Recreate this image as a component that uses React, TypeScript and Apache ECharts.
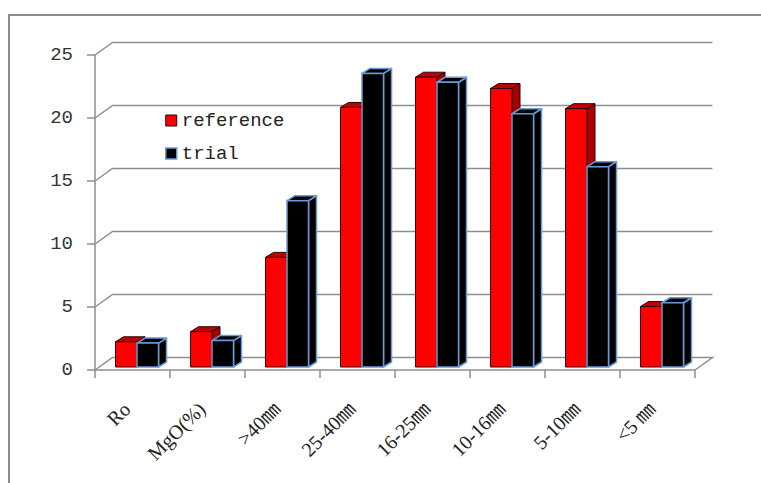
import React, { useEffect, useRef } from 'react';
import * as echarts from 'echarts';

const categories = ['Ro', 'MgO(%)', '>40㎜', '25-40㎜', '16-25㎜', '10-16㎜', '5-10㎜', '<5 ㎜'];
const referenceValues = [2.0, 2.8, 8.7, 20.6, 23.0, 22.1, 20.5, 4.8];
const trialValues = [1.9, 2.1, 13.2, 23.3, 22.6, 20.1, 15.9, 5.1];
const gridValues = [0, 5, 10, 15, 20, 25];

const WALL_DX = 17.5;
const WALL_DY = 12.5;
const BAR_DX = 8;
const BAR_DY = 5;
const BAR_FRAC = 0.287;
const BAR_SHIFT_X = 4.5;
const BAR_SHIFT_Y = 3;
const LINE_GRAY = '#8e8e8e';

function barSeries(name: string, values: number[], slot: number, st: any) {
  return {
    type: 'custom',
    name,
    z: 3,
    clip: false,
    encode: { x: 0, y: 1 },
    data: values.map((v, i) => [i, v]),
    itemStyle: { color: st.front, borderColor: st.stroke, borderWidth: st.lw },
    renderItem: (params: any, api: any) => {
      const idx = api.value(0);
      const val = api.value(1);
      const top = api.coord([idx, val]);
      const base = api.coord([idx, 0]);
      const bw = api.size([1, 0])[0];
      const w = bw * BAR_FRAC;
      const x0 = top[0] - w + BAR_SHIFT_X + slot * w;
      const yt = top[1] - BAR_SHIFT_Y;
      const yb = base[1] - BAR_SHIFT_Y;
      const stroke = { stroke: st.stroke, lineWidth: st.lw, lineJoin: 'round' };
      return {
        type: 'group',
        children: [
          {
            type: 'polygon',
            shape: { points: [[x0 + w, yt], [x0 + w + BAR_DX, yt - BAR_DY], [x0 + w + BAR_DX, yb - BAR_DY], [x0 + w, yb]] },
            style: { fill: st.side, ...stroke },
          },
          {
            type: 'polygon',
            shape: { points: [[x0, yt], [x0 + w, yt], [x0 + w + BAR_DX, yt - BAR_DY], [x0 + BAR_DX, yt - BAR_DY]] },
            style: { fill: st.top, ...stroke },
          },
          {
            type: 'rect',
            shape: { x: x0, y: yt, width: w, height: yb - yt },
            style: { fill: st.front, ...stroke },
          },
        ],
      };
    },
  };
}

export default function App() {
  const ref = useRef<HTMLDivElement>(null);
  useEffect(() => {
    const chart = echarts.init(ref.current!, null, { renderer: 'svg' });
    const refStyle = { front: '#ff0000', top: '#c00000', side: '#a80000', stroke: '#2a0505', lw: 1 };
    const trialStyle = { front: '#000000', top: '#000000', side: '#000000', stroke: '#6a9ad8', lw: 1.5 };
    chart.setOption({
      animation: false,
      backgroundColor: '#ffffff',
      graphic: [
        {
          type: 'rect',
          shape: { x: 9, y: 15, width: 800, height: 520 },
          style: { fill: 'none', stroke: '#8a8a8a', lineWidth: 2 },
          silent: true,
          z: -1,
        },
      ],
      legend: {
        orient: 'vertical',
        left: 160,
        top: 106,
        itemWidth: 11,
        itemHeight: 11,
        itemGap: 14,
        icon: 'rect',
        textStyle: {
          fontFamily: 'Liberation Mono',
          fontSize: 19,
          color: '#222',
          padding: [9, 0, 0, 0],
        },
        data: [
          { name: 'reference', itemStyle: { color: '#ff0000', borderColor: '#2a0505', borderWidth: 1 } },
          { name: 'trial', itemStyle: { color: '#000000', borderColor: '#6a9ad8', borderWidth: 1.5 } },
        ],
      },
      grid: { left: 95, right: 66, top: 55, bottom: 113, containLabel: false },
      xAxis: {
        type: 'category',
        data: categories,
        boundaryGap: true,
        axisLine: { show: true, lineStyle: { color: LINE_GRAY, width: 1.5 } },
        axisTick: { show: true, length: 8, interval: 0, lineStyle: { color: LINE_GRAY, width: 1.5 } },
        axisLabel: {
          interval: 0,
          rotate: 45,
          margin: 30,
          padding: [0, 8, 0, 0],
          fontFamily: "'Liberation Serif', 'Noto Sans CJK SC'",
          fontSize: 20,
          color: '#222',
        },
        splitLine: { show: false },
      },
      yAxis: {
        type: 'value',
        min: 0,
        max: 25,
        interval: 5,
        axisLine: { show: true, lineStyle: { color: LINE_GRAY, width: 1.5 } },
        axisTick: { show: true, length: 8, lineStyle: { color: LINE_GRAY, width: 1.5 } },
        axisLabel: {
          margin: 22,
          padding: [6, 0, 0, 0],
          fontFamily: 'Liberation Mono',
          fontSize: 19,
          color: '#333',
        },
        splitLine: { show: false },
      },
      series: [
        {
          type: 'custom',
          name: 'walls',
          z: 1,
          clip: false,
          silent: true,
          encode: { x: 0, y: 1 },
          data: gridValues.map((v) => [0, v]),
          renderItem: (params: any, api: any) => {
            const cs = params.coordSys;
            const v = api.value(1);
            const y = api.coord([0, v])[1];
            const x0 = cs.x;
            const x1 = cs.x + cs.width;
            const pts: number[][] = [[x0, y], [x0 + WALL_DX, y - WALL_DY], [x1 + WALL_DX, y - WALL_DY]];
            if (v === 0) pts.push([x1, y]);
            return {
              type: 'polyline',
              shape: { points: pts },
              style: { stroke: LINE_GRAY, lineWidth: 1.5, fill: null },
            };
          },
        },
        barSeries('reference', referenceValues, 0, refStyle),
        barSeries('trial', trialValues, 1, trialStyle),
      ],
    });
    return () => chart.dispose();
  }, []);
  return (
    <div
      ref={ref}
      style={{ position: 'fixed', left: 0, top: 0, width: 761, height: 483, background: '#fff' }}
    />
  );
}
